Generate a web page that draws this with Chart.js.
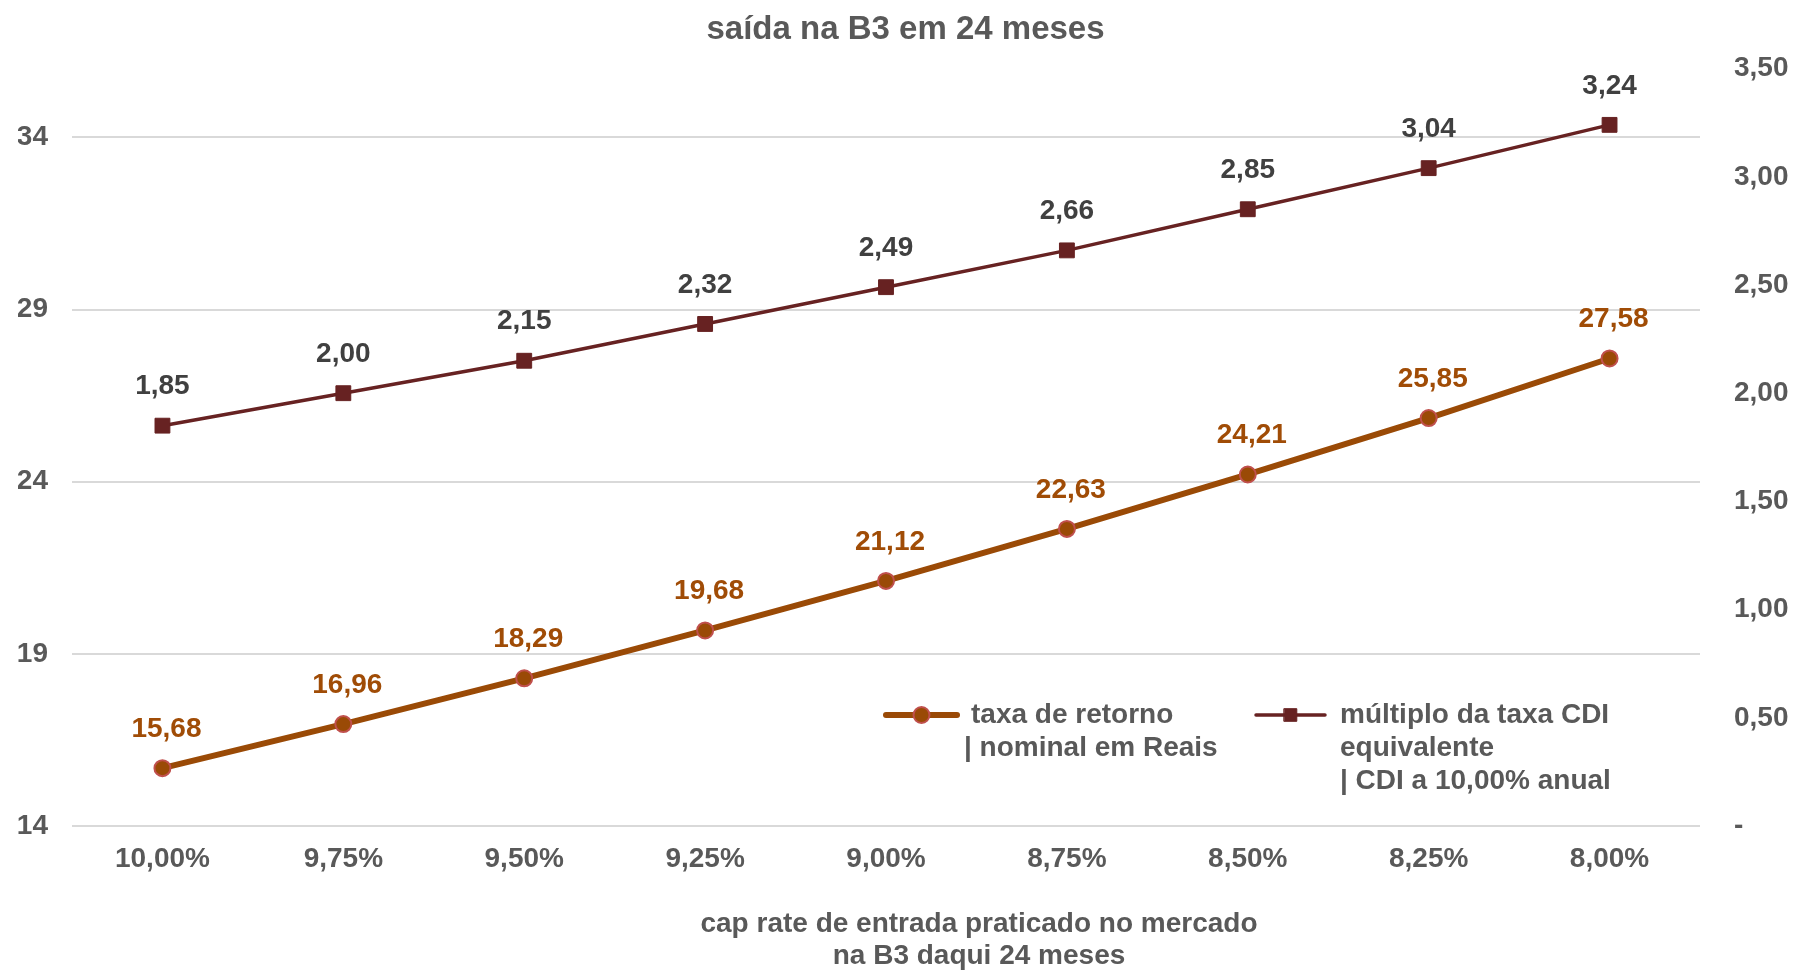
<!DOCTYPE html>
<html lang="pt-BR">
<head>
<meta charset="utf-8">
<title>saída na B3 em 24 meses</title>
<script src="https://cdn.jsdelivr.net/npm/chart.js@4.4.1/dist/chart.umd.min.js"></script>
<style>
  html, body { margin: 0; padding: 0; background: #ffffff; }
  #wrap { position: relative; width: 1793px; height: 970px; }
</style>
</head>
<body>
<div id="wrap"><canvas id="chart"></canvas></div>
<script>
// Cap rate de entrada (eixo X)
const capRates = ['10,00%', '9,75%', '9,50%', '9,25%', '9,00%', '8,75%', '8,50%', '8,25%', '8,00%'];
// Taxa de retorno nominal em Reais (% a.a., eixo esquerdo)
const taxaRetorno = [15.68, 16.96, 18.29, 19.68, 21.12, 22.63, 24.21, 25.85, 27.58];
// Múltiplo da taxa CDI equivalente (eixo direito)
const multiploCDI = [1.85, 2.00, 2.15, 2.32, 2.49, 2.66, 2.85, 3.04, 3.24];
// Marcas do eixo esquerdo
const leftTicks = [14, 19, 24, 29, 34];
// Título do eixo X
const xTitle = ['cap rate de entrada praticado no mercado', 'na B3 daqui 24 meses'];

const GRAY = '#595959';
const BROWN = '#9A4A06';
const BROWN_LABEL = '#A04C06';
const MAROON = '#672222';
const FONT = "'Liberation Sans', Arial, sans-serif";

const fmt = v => v.toFixed(2).replace('.', ',');

// Rótulos de valor acima de cada ponto
const valueLabels = {
  id: 'valueLabels',
  afterDatasetsDraw(chart) {
    const ctx = chart.ctx;
    ctx.save();
    ctx.font = `bold 28px ${FONT}`;
    ctx.textAlign = 'center';
    ctx.textBaseline = 'middle';
    chart.data.datasets.forEach((ds, i) => {
      const meta = chart.getDatasetMeta(i);
      ctx.fillStyle = ds.labelColor;
      meta.data.forEach((pt, j) => {
        ctx.fillText(fmt(ds.data[j]), pt.x + ds.labelShift, pt.y - 39);
      });
    });
    ctx.restore();
  }
};

// Título do eixo X, deslocado para a direita sob a legenda
const axisTitle = {
  id: 'axisTitle',
  afterDraw(chart) {
    const ctx = chart.ctx;
    ctx.save();
    ctx.fillStyle = GRAY;
    ctx.font = `bold 28px ${FONT}`;
    ctx.textAlign = 'center';
    ctx.textBaseline = 'middle';
    xTitle.forEach((line, k) => ctx.fillText(line, 979, 924 + k * 32));
    ctx.restore();
  }
};

// Legenda dentro da área do gráfico, com textos em várias linhas
const innerLegend = {
  id: 'innerLegend',
  afterDraw(chart) {
    const ctx = chart.ctx;
    const entries = [
      { ds: 0, x0: 886, x1: 957, y: 715, tx: [[971, 'taxa de retorno'], [964, '| nominal em Reais']] },
      { ds: 1, x0: 1256, x1: 1325, y: 715, tx: [[1340, 'múltiplo da taxa CDI'], [1340, 'equivalente'], [1340, '| CDI a 10,00% anual']] }
    ];
    ctx.save();
    entries.forEach(e => {
      const ds = chart.data.datasets[e.ds];
      ctx.strokeStyle = ds.borderColor;
      ctx.lineWidth = ds.borderWidth;
      ctx.lineCap = 'round';
      ctx.beginPath();
      ctx.moveTo(e.x0, e.y);
      ctx.lineTo(e.x1, e.y);
      ctx.stroke();
      const cx = (e.x0 + e.x1) / 2;
      ctx.fillStyle = ds.pointBackgroundColor;
      ctx.strokeStyle = ds.pointBorderColor;
      ctx.lineWidth = ds.pointBorderWidth;
      ctx.beginPath();
      if (ds.pointStyle === 'rect') {
        const s = ds.pointRadius * Math.SQRT1_2 * 0.85;
        ctx.rect(cx - s, e.y - s, 2 * s, 2 * s);
      } else {
        ctx.arc(cx, e.y, ds.pointRadius, 0, Math.PI * 2);
      }
      ctx.fill();
      ctx.stroke();
      ctx.fillStyle = GRAY;
      ctx.font = `bold 28px ${FONT}`;
      ctx.textAlign = 'left';
      ctx.textBaseline = 'middle';
      e.tx.forEach((t, k) => ctx.fillText(t[1], t[0], e.y + k * 33));
    });
    ctx.restore();
  }
};

new Chart(document.getElementById('chart'), {
  type: 'line',
  data: {
    labels: capRates,
    datasets: [
      {
        label: 'taxa de retorno | nominal em Reais',
        data: taxaRetorno,
        yAxisID: 'y',
        borderColor: BROWN,
        borderWidth: 6,
        pointStyle: 'circle',
        pointRadius: 8,
        pointHoverRadius: 8,
        pointBorderWidth: 2,
        pointBackgroundColor: BROWN,
        pointBorderColor: '#C0504D',
        labelColor: BROWN_LABEL,
        labelShift: 4,
        tension: 0
      },
      {
        label: 'múltiplo da taxa CDI equivalente | CDI a 10,00% anual',
        data: multiploCDI,
        yAxisID: 'y1',
        borderColor: MAROON,
        borderWidth: 3.5,
        pointStyle: 'rect',
        pointRadius: 10.5,
        pointHoverRadius: 10.5,
        pointBorderWidth: 1,
        pointBackgroundColor: MAROON,
        pointBorderColor: MAROON,
        labelColor: '#404040',
        labelShift: 0,
        tension: 0
      }
    ]
  },
  options: {
    responsive: true,
    maintainAspectRatio: false,
    animation: false,
    events: [],
    layout: { padding: { left: 18 } },
    plugins: {
      legend: { display: false },
      tooltip: { enabled: false },
      title: {
        display: true,
        text: 'saída na B3 em 24 meses',
        color: GRAY,
        font: { family: FONT, size: 33, weight: 'bold', lineHeight: 1.2 },
        padding: { top: 10, bottom: 19 }
      }
    },
    scales: {
      x: {
        type: 'category',
        offset: true,
        grid: { display: false, drawTicks: false },
        border: { display: false },
        ticks: { color: GRAY, font: { family: FONT, size: 28, weight: 'bold' }, padding: 16, maxRotation: 0 },
        title: { display: false },
        afterFit(scale) { scale.height = 144; }
      },
      y: {
        position: 'left',
        min: 14,
        max: 36,
        afterBuildTicks(scale) { scale.ticks = leftTicks.map(v => ({ value: v })); },
        grid: { color: '#D9D9D9', lineWidth: 2, drawTicks: false },
        border: { display: false },
        ticks: { color: GRAY, font: { family: FONT, size: 28, weight: 'bold' }, padding: 24 },
        afterFit(scale) { scale.width = 54; }
      },
      y1: {
        position: 'right',
        min: 0,
        max: 3.5,
        grid: { display: false, drawTicks: false },
        border: { display: false },
        ticks: {
          stepSize: 0.5,
          color: GRAY,
          font: { family: FONT, size: 28, weight: 'bold' },
          padding: 34,
          callback: v => (v === 0 ? '-' : fmt(v))
        },
        afterFit(scale) { scale.width = 93; }
      }
    }
  },
  plugins: [valueLabels, axisTitle, innerLegend]
});
</script>
</body>
</html>
